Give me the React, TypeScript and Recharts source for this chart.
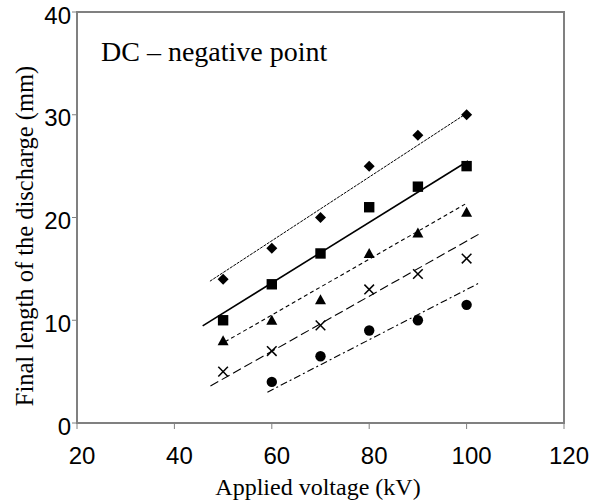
import React from 'react';
import { ComposedChart, XAxis, YAxis, Scatter, ReferenceLine, ReferenceArea } from 'recharts';

const voltages = [50, 60, 70, 80, 90, 100];
const diamondValues = [14, 17, 20, 25, 28, 30];
const squareValues = [10, 13.5, 16.5, 21, 23, 25];
const triangleValues = [8, 10, 12, 16.5, 18.5, 20.5];
const crossValues = [5, 7, 9.5, 13, 14.5, 16];
const circleVoltages = [60, 70, 80, 90, 100];
const circleValues = [4, 6.5, 9, 10, 11.5];

const xTicks = [20, 40, 60, 80, 100, 120];
const yTicks = [0, 10, 20, 30, 40];

// trend line end points [voltage, length]
const diamondTrend = [[47.3, 13.8], [100.2, 30.2]];
const squareTrend = [[45.8, 9.45], [100.3, 25.5]];
const triangleTrend = [[50.4, 7.9], [99.7, 21.3]];
const crossTrend = [[47.4, 3.6], [102.6, 18.4]];
const circleTrend = [[59.1, 3.0], [102.5, 13.6]];

const title = 'DC – negative point';
const xTitle = 'Applied voltage (kV)';
const yTitle = 'Final length of the discharge (mm)';

const toPoints = (xs: number[], ys: number[]) => xs.map((x, i) => ({ x, y: ys[i] }));
const seg = (t: number[][]) => t.map(([x, y]) => ({ x, y }));

const Diamond = (p: any) => {
  const { cx, cy } = p;
  const r = 5.5;
  return <path d={`M${cx},${cy - r}L${cx + r},${cy}L${cx},${cy + r}L${cx - r},${cy}Z`} fill="#000" />;
};
const Square = (p: any) => {
  const { cx, cy } = p;
  const r = 5.2;
  return <rect x={cx - r} y={cy - r} width={2 * r} height={2 * r} fill="#000" />;
};
const Triangle = (p: any) => {
  const { cx, cy } = p;
  return <path d={`M${cx},${cy - 5.5}L${cx + 5.5},${cy + 4.5}L${cx - 5.5},${cy + 4.5}Z`} fill="#000" />;
};
const Cross = (p: any) => {
  const { cx, cy } = p;
  const r = 4.8;
  return (
    <g stroke="#000" strokeWidth={1.5}>
      <line x1={cx - r} y1={cy - r} x2={cx + r} y2={cy + r} />
      <line x1={cx - r} y1={cy + r} x2={cx + r} y2={cy - r} />
    </g>
  );
};
const Circle = (p: any) => {
  const { cx, cy } = p;
  return <circle cx={cx} cy={cy} r={5.2} fill="#000" />;
};

const XTick = (p: any) => {
  const { x, y, payload } = p;
  return (
    <text x={x + 5} y={y} dy={17} textAnchor="middle" fontSize={24} fontFamily="Liberation Sans" fill="#000">
      {payload.value}
    </text>
  );
};
const YTick = (p: any) => {
  const { x, y, payload } = p;
  return (
    <text x={x} y={y} dy={11.5} textAnchor="end" fontSize={24} fontFamily="Liberation Sans" fill="#000">
      {payload.value}
    </text>
  );
};

export default function App() {
  return (
    <div style={{ position: 'absolute', left: 0, top: 0, width: 603, height: 504, background: '#fff' }}>
      <ComposedChart width={603} height={504} margin={{ top: 12, right: 39, left: 0, bottom: 0 }}>
        <XAxis
          type="number"
          dataKey="x"
          domain={[20, 120]}
          ticks={xTicks}
          height={81}
          tickSize={6}
          tickMargin={18}
          axisLine={{ stroke: '#808080', strokeWidth: 2 }}
          tickLine={{ stroke: '#808080', strokeWidth: 1 }}
          tick={<XTick />}
          allowDataOverflow
        />
        <YAxis
          type="number"
          dataKey="y"
          domain={[0, 40]}
          ticks={yTicks}
          width={77}
          tickSize={5}
          tickMargin={1}
          axisLine={{ stroke: '#808080', strokeWidth: 2 }}
          tickLine={{ stroke: '#808080', strokeWidth: 1 }}
          tick={<YTick />}
          allowDataOverflow
        />
        <ReferenceArea x1={20} x2={120} y1={0} y2={40} fill="none" stroke="#808080" strokeWidth={2} />
        <ReferenceLine segment={seg(diamondTrend)} stroke="#000" strokeWidth={1} strokeDasharray="3 1" />
        <ReferenceLine segment={seg(squareTrend)} stroke="#000" strokeWidth={1.6} />
        <ReferenceLine segment={seg(triangleTrend)} stroke="#000" strokeWidth={1.1} strokeDasharray="4 3" />
        <ReferenceLine segment={seg(crossTrend)} stroke="#000" strokeWidth={1.1} strokeDasharray="9 4" />
        <ReferenceLine segment={seg(circleTrend)} stroke="#000" strokeWidth={1.1} strokeDasharray="7 3 2 3" />
        <Scatter data={toPoints(voltages, diamondValues)} shape={Diamond} isAnimationActive={false} />
        <Scatter data={toPoints(voltages, squareValues)} shape={Square} isAnimationActive={false} />
        <Scatter data={toPoints(voltages, triangleValues)} shape={Triangle} isAnimationActive={false} />
        <Scatter data={toPoints(voltages, crossValues)} shape={Cross} isAnimationActive={false} />
        <Scatter data={toPoints(circleVoltages, circleValues)} shape={Circle} isAnimationActive={false} />
      </ComposedChart>
      <svg width={603} height={504} style={{ position: 'absolute', left: 0, top: 0, pointerEvents: 'none' }}>
        <text x={101} y={61} fontSize={28} fontFamily="Liberation Serif" fill="#000">{title}</text>
        <text x={318} y={495} textAnchor="middle" fontSize={24} fontFamily="Liberation Serif" fill="#000">{xTitle}</text>
        <text
          x={33}
          y={236}
          transform="rotate(-90 33 236)"
          textAnchor="middle"
          fontSize={24.5}
          fontFamily="Liberation Serif"
          fill="#000"
        >
          {yTitle}
        </text>
      </svg>
    </div>
  );
}
